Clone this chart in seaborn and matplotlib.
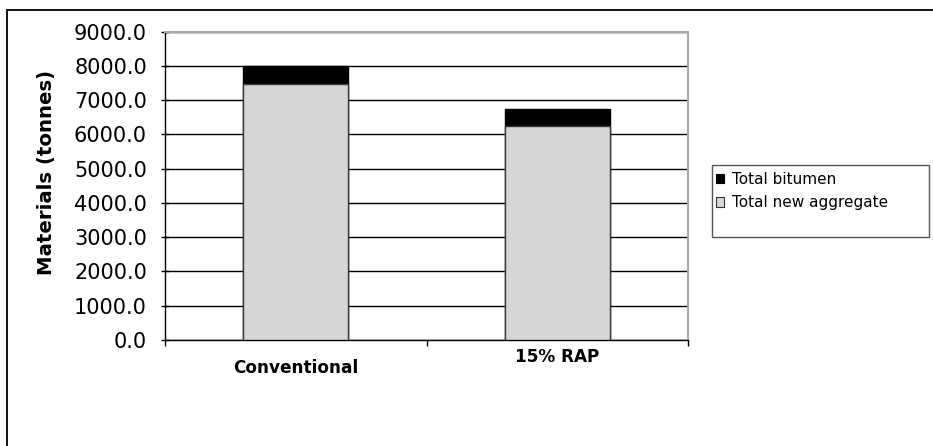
import matplotlib
matplotlib.use("Agg")
import matplotlib.pyplot as plt
import matplotlib.transforms as mtransforms
from matplotlib.patches import Patch, Rectangle
from matplotlib.lines import Line2D
from matplotlib.ticker import FixedLocator
import pandas as pd
import seaborn as sns

# Material quantities per mix (tonnes)
mixes = ["Conventional", "15% RAP"]
new_aggregate = [7475, 6255]
bitumen = [525, 480]
y_ticks = [0, 1000, 2000, 3000, 4000, 5000, 6000, 7000, 8000, 9000]
series_labels = ["Total bitumen", "Total new aggregate"]

sns.set_theme(style="white")
plt.rcParams["font.family"] = ["DejaVu Sans"]
plt.rcParams["text.color"] = "black"
plt.rcParams["axes.labelcolor"] = "black"
plt.rcParams["xtick.color"] = "black"
plt.rcParams["ytick.color"] = "black"

df = pd.DataFrame({"mix": mixes, "aggregate": new_aggregate, "bitumen": bitumen})
df["total"] = df["aggregate"] + df["bitumen"]

W, H = 933, 446
fig = plt.figure(figsize=(W / 100, H / 100), dpi=100)
fig.patch.set_facecolor("white")
ax = fig.add_axes([165 / W, 1 - 340 / H, 523 / W, 308.3 / H])

agg_color = "#d6d6d6"
bit_color = "black"

# Stacked bars: the full height in black, aggregate drawn over the lower part
sns.barplot(data=df, x="mix", y="total", color=bit_color, saturation=1,
            width=0.4, edgecolor="black", linewidth=1.0, ax=ax, zorder=3)
sns.barplot(data=df, x="mix", y="aggregate", color=agg_color, saturation=1,
            width=0.4, edgecolor="#3a3a3a", linewidth=1.0, ax=ax, zorder=4)

ax.set_xlim(-0.5, 1.5)
ax.set_ylim(0, 9000)
ax.set_yticks(y_ticks)
ax.set_yticklabels([f"{v:.1f}" for v in y_ticks])
ax.yaxis.grid(True, color="black", linewidth=1.0, zorder=1)
ax.set_axisbelow(True)

for side in ("left", "bottom"):
    ax.spines[side].set_color("black")
    ax.spines[side].set_linewidth(1.0)
for side in ("top", "right"):
    ax.spines[side].set_color("#a8a8a8")
    ax.spines[side].set_linewidth(1.5)

ax.tick_params(axis="y", direction="inout", length=6, width=1, color="black",
               labelsize=15, pad=10, labelcolor="black", left=True)
ax.xaxis.set_minor_locator(FixedLocator([-0.5, 0.5, 1.5]))
ax.tick_params(axis="x", which="minor", direction="out", length=4, width=1,
               color="black", bottom=True)
ax.tick_params(axis="x", which="major", length=0, pad=5.5, labelsize=12.2,
               labelcolor="black")
for lab in ax.get_xticklabels():
    lab.set_fontweight("bold")
# the first category label sits a little lower
first = ax.get_xticklabels()[0]
first.set_transform(first.get_transform() +
                    mtransforms.ScaledTranslation(0, -11 / 100, fig.dpi_scale_trans))

ax.set_xlabel("")
ax.set_ylabel("Materials (tonnes)", fontsize=14.2, fontweight="bold", color="black")
ax.yaxis.set_label_coords(-0.2085, 0.545)

# Legend box
fig.add_artist(Rectangle((712 / W, 1 - 237 / H), 217 / W, 72 / H,
                         transform=fig.transFigure, fill=False,
                         edgecolor="#555555", linewidth=1.0))
handles = [Patch(facecolor=bit_color, edgecolor="black", linewidth=0.8),
           Patch(facecolor=agg_color, edgecolor="#333333", linewidth=0.8)]
fig.legend(handles, series_labels, loc="upper left",
           bbox_to_anchor=(713 / W, 1 - 169 / H), frameon=False, fontsize=11,
           handlelength=0.55, handleheight=0.55, handletextpad=0.5,
           labelspacing=0.55, borderpad=0.2, borderaxespad=0, labelcolor="black")

# Outer chart border
fig.add_artist(Line2D([7 / W, 1.01], [1 - 10 / H] * 2, transform=fig.transFigure,
                      color="black", linewidth=1.3))
fig.add_artist(Line2D([7 / W] * 2, [1 - 10 / H, -0.01], transform=fig.transFigure,
                      color="black", linewidth=1.3))

fig.savefig("out.png", dpi=100, facecolor="white")
